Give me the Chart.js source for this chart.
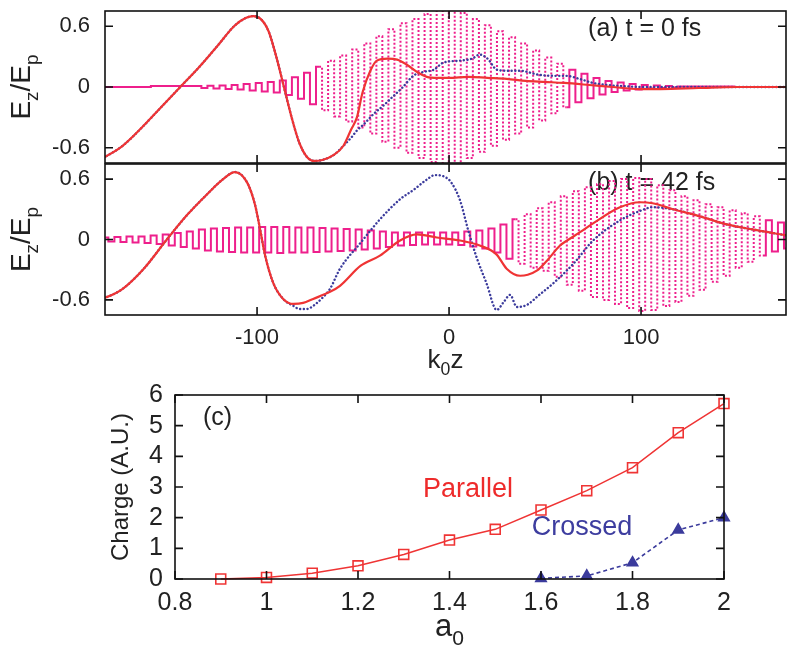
<!DOCTYPE html>
<html lang="en">
<head>
<meta charset="UTF-8">
<title>Wakefield Ez/Ep and injected charge</title>
<style>
  body { margin: 0; background: #fff; }
  #wrap { position: relative; width: 788px; height: 646px; }
  canvas { position: absolute; left: 0; }
</style>
</head>
<body>
<div id="wrap">
  <canvas id="panelA" width="788" height="166" style="top:0px"></canvas>
  <canvas id="panelB" width="788" height="225" style="top:150px"></canvas>
  <canvas id="panelC" width="788" height="271" style="top:375px"></canvas>
</div>
<script src="https://cdn.jsdelivr.net/npm/chart.js@4.4.1/dist/chart.umd.min.js"></script>
<script>
// ---- panels (a) and (b): k0z axis ----
const xTicksAB = [-100, 0, 100];
const yTicksAB = [-0.6, 0, 0.6];

// (a) t = 0 fs : wakefield, parallel (red) and crossed (blue)
const redAX = [-180, -170, -160, -150, -140, -130, -120, -112, -106, -102, -98, -94, -90, -86, -82, -78, -74, -70, -66, -60,
  -55, -51, -48, -45, -41, -37.6, -32, -27, -22, -16, -11.6, -6, 0, 10, 20, 30, 40, 50, 60, 73, 85, 99, 110, 130, 150, 176];
const redAY = [-0.7, -0.58, -0.4, -0.2, 0.0, 0.2, 0.42, 0.6, 0.68, 0.7, 0.67, 0.55, 0.3, 0.0, -0.3, -0.55, -0.69, -0.73, -0.72, -0.67,
  -0.58, -0.42, -0.3, -0.05, 0.16, 0.26, 0.28, 0.27, 0.22, 0.14, 0.1, 0.09, 0.09, 0.1, 0.09, 0.08, 0.06, 0.05, 0.04, 0.02, 0.0, -0.02, -0.02, -0.01, 0.0, 0.0];
const blueAX = [-180, -170, -160, -150, -140, -130, -120, -112, -106, -102, -98, -94, -90, -86, -82, -78, -74, -70, -66, -60,
  -55, -51, -48, -44, -39.5, -34, -29, -24, -18.7, -13, -8, -3, 5.7, 12, 16, 20, 25, 31, 37, 47, 55, 61, 68, 75, 82, 89, 100, 117, 150, 176];
const blueAY = [-0.7, -0.58, -0.4, -0.2, 0.0, 0.2, 0.42, 0.6, 0.68, 0.7, 0.67, 0.55, 0.3, 0.0, -0.3, -0.55, -0.69, -0.73, -0.72, -0.67,
  -0.58, -0.5, -0.43, -0.36, -0.27, -0.18, -0.09, 0.0, 0.11, 0.15, 0.17, 0.24, 0.26, 0.28, 0.32, 0.28, 0.17, 0.16, 0.16, 0.12, 0.11, 0.11, 0.08, 0.04, 0.02, 0.01, 0.0, 0.0, 0.0, 0.0];
// laser field, crest and trough positions
const laserAX = [-180,
  -130.6, -127.4, -124.3, -121.1, -118.0, -114.8, -111.7, -108.6, -105.4, -102.3,
  -99.1, -96.0, -92.9, -89.7, -86.6, -83.4, -80.3, -77.1, -74.0, -70.9,
  -67.7, -64.6, -61.4, -58.3, -55.2, -52.0, -48.9, -45.7, -42.6, -39.4,
  -36.3, -33.2, -30.0, -26.9, -23.7, -20.6, -17.5, -14.3, -11.2, -8.0,
  -4.9, -1.7, 1.4, 4.5, 7.7, 10.8, 14.0, 17.1, 20.2, 23.4,
  26.5, 29.7, 32.8, 36.0, 39.1, 42.2, 45.4, 48.5, 51.7, 54.8,
  57.9, 61.1, 64.2, 67.4, 70.5, 73.7, 76.8, 79.9, 83.1, 86.2,
  89.4, 92.5, 95.6, 98.8, 101.9, 105.1, 108.2, 111.4, 114.5, 117.6, 120.8,
  176];
const laserAY = [0,
  0.01, -0.01, 0.012, -0.015, 0.015, -0.02, 0.02, -0.025, 0.03, -0.035,
  0.04, -0.045, 0.05, -0.055, 0.065, -0.08, 0.095, -0.115, 0.14, -0.17,
  0.2, -0.23, 0.26, -0.29, 0.31, -0.34, 0.37, -0.4, 0.43, -0.46,
  0.5, -0.54, 0.57, -0.6, 0.63, -0.65, 0.67, -0.7, 0.72, -0.74,
  0.76, -0.77, 0.78, -0.76, 0.73, -0.7, 0.67, -0.64, 0.61, -0.58,
  0.55, -0.52, 0.49, -0.46, 0.43, -0.4, 0.36, -0.33, 0.29, -0.26,
  0.23, -0.2, 0.17, -0.15, 0.13, -0.11, 0.09, -0.075, 0.06, -0.05,
  0.045, -0.035, 0.03, -0.025, 0.02, -0.015, 0.015, -0.01, 0.01, -0.005, 0.005,
  0];

// (b) t = 42 fs
const redBX = [-180, -178, -170, -159, -147, -136.6, -126, -117.7, -111.5, -105, -101, -98.4, -95.8, -91.6, -86.4, -81, -76, -70.8, -62, -56.8,
  -46, -36, -25.5, -16.8, -6.4, 5.7, 16, 24.8, 30, 37, 41, 45.7, 51, 57.8, 61.5, 68, 75, 89, 99.5, 106, 116.7, 130.7, 144.6, 158, 176];
const redBY = [-0.58, -0.57, -0.49, -0.29, 0.0, 0.24, 0.45, 0.6, 0.67, 0.56, 0.34, 0.1, -0.16, -0.43, -0.59, -0.64, -0.63, -0.59, -0.52, -0.46,
  -0.26, -0.16, -0.01, 0.05, 0.02, -0.01, -0.06, -0.15, -0.29, -0.36, -0.35, -0.31, -0.21, -0.06, -0.01, 0.07, 0.16, 0.32, 0.37, 0.36, 0.3, 0.23, 0.15, 0.1, 0.04];
const blueBX = [-180, -178, -170, -159, -147, -136.6, -126, -117.7, -111.5, -105, -101, -98.4, -95.8, -91.6, -86.4, -81, -78, -74, -70.8, -66,
  -62, -56.8, -46.4, -36, -25.5, -18, -12, -7.3, -2, 1, 5.7, 10, 14.4, 19.6, 24.8, 28.5, 31.8, 35.3, 40.5, 47,
  54, 64.8, 75, 89, 99, 106, 116.7, 130.7, 144.6, 158, 176];
const blueBY = [-0.58, -0.57, -0.49, -0.29, 0.0, 0.24, 0.45, 0.6, 0.67, 0.56, 0.34, 0.1, -0.16, -0.43, -0.59, -0.66, -0.69, -0.69, -0.66, -0.58,
  -0.49, -0.29, -0.04, 0.2, 0.4, 0.5, 0.59, 0.64, 0.62, 0.57, 0.39, 0.09, -0.18, -0.44, -0.7, -0.62, -0.55, -0.67, -0.65, -0.55,
  -0.44, -0.24, -0.01, 0.19, 0.28, 0.32, 0.3, 0.23, 0.15, 0.1, 0.04];
const laserBX = [
  -179.0, -175.9, -172.7, -169.6, -166.4, -163.3, -160.2, -157.0, -153.9, -150.7,
  -147.6, -144.4, -141.3, -138.2, -135.0, -131.9, -128.7, -125.6, -122.5, -119.3,
  -116.2, -113.0, -109.9, -106.7, -103.6, -100.5, -97.3, -94.2, -91.0, -87.9,
  -84.8, -81.6, -78.5, -75.3, -72.2, -69.0, -65.9, -62.8, -59.6, -56.5,
  -53.3, -50.2, -47.1, -43.9, -40.8, -37.6, -34.5, -31.3, -28.2, -25.1,
  -21.9, -18.8, -15.6, -12.5, -9.4, -6.2, -3.1, 0.1, 3.2, 6.4,
  9.5, 12.6, 15.8, 18.9, 22.1, 25.2, 28.3, 31.5, 34.6, 37.8,
  40.9, 44.1, 47.2, 50.3, 53.5, 56.6, 59.8, 62.9, 66.0, 69.2,
  72.3, 75.5, 78.6, 81.8, 84.9, 88.0, 91.2, 94.3, 97.5, 100.6,
  103.7, 106.9, 110.0, 113.2, 116.3, 119.5, 122.6, 125.7, 128.9, 132.0,
  135.2, 138.3, 141.4, 144.6, 147.7, 150.9, 154.0, 157.1, 160.3, 163.4,
  166.6, 169.7, 172.9, 176.0];
const laserBY = [
  0.02, -0.02, 0.025, -0.025, 0.03, -0.03, 0.03, -0.035, 0.04, -0.045,
  0.05, -0.06, 0.065, -0.075, 0.08, -0.09, 0.1, -0.11, 0.11, -0.12,
  0.115, -0.125, 0.12, -0.13, 0.12, -0.13, 0.125, -0.13, 0.125, -0.135,
  0.125, -0.13, 0.12, -0.13, 0.12, -0.125, 0.115, -0.12, 0.11, -0.115,
  0.105, -0.11, 0.1, -0.1, 0.09, -0.09, 0.08, -0.075, 0.07, -0.06,
  0.07, -0.055, 0.07, -0.05, 0.07, -0.05, 0.07, -0.05, 0.07, -0.055,
  0.08, -0.07, 0.09, -0.09, 0.11, -0.13, 0.15, -0.19, 0.2, -0.24,
  0.25, -0.28, 0.31, -0.31, 0.37, -0.37, 0.43, -0.45, 0.48, -0.51,
  0.52, -0.57, 0.55, -0.6, 0.58, -0.64, 0.6, -0.68, 0.61, -0.71,
  0.6, -0.7, 0.54, -0.66, 0.49, -0.62, 0.43, -0.56, 0.39, -0.5,
  0.35, -0.42, 0.32, -0.36, 0.29, -0.28, 0.26, -0.22, 0.23, -0.16,
  0.19, -0.12, 0.17, -0.09];

// ---- panel (c): charge vs a0 ----
const xTicksC = [0.8, 1, 1.2, 1.4, 1.6, 1.8, 2];
const yTicksC = [0, 1, 2, 3, 4, 5, 6];
const a0Parallel = [0.9, 1.0, 1.1, 1.2, 1.3, 1.4, 1.5, 1.6, 1.7, 1.8, 1.9, 2.0];
const chargeParallel = [0, 0.05, 0.19, 0.43, 0.8, 1.27, 1.62, 2.25, 2.88, 3.63, 4.77, 5.72];
const a0Crossed = [1.6, 1.7, 1.8, 1.9, 2.0];
const chargeCrossed = [0.02, 0.1, 0.53, 1.6, 2.0];

const RED = '#ef3434';
const BLUE = '#3b3b9c';
const PINK = '#ee1f8c';
const INK = '#222';
const FAM = "'Liberation Sans', Arial, Helvetica, sans-serif";

Chart.defaults.font.family = FAM;
Chart.defaults.color = INK;

const pts = (xs, ys) => xs.map((x, i) => ({ x: x, y: ys[i] }));

// text with subscripts: parts = [[text, isSub], ...]
function rich(ctx, parts, x, y, size, align) {
  let w = 0;
  parts.forEach(([t, sub]) => {
    ctx.font = (sub ? size * 0.68 : size) + 'px ' + FAM;
    w += ctx.measureText(t).width;
  });
  let cx = align === 'center' ? x - w / 2 : x;
  parts.forEach(([t, sub]) => {
    ctx.font = (sub ? size * 0.68 : size) + 'px ' + FAM;
    ctx.fillText(t, cx, y + (sub ? size * 0.28 : 0));
    cx += ctx.measureText(t).width;
  });
}

// gnuplot style box with inward ticks on all four sides
const frame = {
  id: 'frame',
  afterDatasetsDraw(chart, args, o) {
    const { ctx, chartArea: a, scales: { x, y } } = chart;
    ctx.save();
    ctx.strokeStyle = '#111';
    ctx.lineWidth = 1.6;
    ctx.strokeRect(a.left, a.top, a.right - a.left, a.bottom - a.top);
    ctx.beginPath();
    o.xt.forEach(v => {
      const p = x.getPixelForValue(v);
      ctx.moveTo(p, a.bottom); ctx.lineTo(p, a.bottom - 8);
      ctx.moveTo(p, a.top); ctx.lineTo(p, a.top + 8);
    });
    o.yt.forEach(v => {
      const p = y.getPixelForValue(v);
      ctx.moveTo(a.left, p); ctx.lineTo(a.left + 8, p);
      ctx.moveTo(a.right, p); ctx.lineTo(a.right - 8, p);
    });
    ctx.stroke();
    ctx.restore();
  }
};

const labels = {
  id: 'labels',
  beforeDatasetsDraw(chart, args, o) {
    const { ctx, chartArea: a, scales: { x, y } } = chart;
    ctx.save();
    ctx.textAlign = 'left';
    ctx.textBaseline = 'alphabetic';
    o.items.forEach(it => {
      ctx.fillStyle = it.color || INK;
      if (it.rot) {
        ctx.save();
        ctx.translate(it.px, (a.top + a.bottom) / 2);
        ctx.rotate(-Math.PI / 2);
        rich(ctx, it.parts, 0, 0, it.size, 'center');
        ctx.restore();
      } else if (it.py !== undefined) {
        rich(ctx, it.parts, (a.left + a.right) / 2, it.py, it.size, 'center');
      } else {
        rich(ctx, it.parts, x.getPixelForValue(it.x), y.getPixelForValue(it.y), it.size, 'left');
      }
    });
    ctx.restore();
  }
};

const EzEp = [['E', 0], ['z', 1], ['/', 0], ['E', 0], ['p', 1]];
const X_MIN = -179.2, X_MAX = 175.5;

function pinkDash(c) {
  const y0 = c.p0.parsed ? c.p0.parsed.y : 0;
  const y1 = c.p1.parsed ? c.p1.parsed.y : 0;
  return Math.max(Math.abs(y0), Math.abs(y1)) > 0.2 ? [2, 2] : undefined;
}

function waveDatasets(rx, ry, bx, by, lx, ly) {
  return [
    { data: pts(rx, ry), borderColor: RED, borderWidth: 2.2, pointRadius: 0, cubicInterpolationMode: 'monotone' },
    { data: pts(bx, by), borderColor: BLUE, borderWidth: 2.4, borderDash: [0.1, 3.6], borderCapStyle: 'round',
      pointRadius: 0, cubicInterpolationMode: 'monotone' },
    { data: pts(lx, ly), borderColor: PINK, borderWidth: 2, pointRadius: 0, stepped: 'middle',
      segment: { borderDash: pinkDash } }
  ];
}

// fixed axis sizes, and no extra room for half-labels at the ends
function fixV(w) {
  return s => { s.width = w; s.paddingTop = 0; s.paddingBottom = 0; };
}
function fixH(h) {
  return s => { s.height = h; s.paddingLeft = 0; s.paddingRight = 0; };
}

function yAxisAB() {
  return {
    min: -0.75, max: 0.75,
    grid: { display: false, drawTicks: false }, border: { display: false },
    afterBuildTicks: s => { s.ticks = yTicksAB.map(v => ({ value: v })); },
    afterFit: fixV(105),
    ticks: { padding: 15, font: { size: 22 }, autoSkip: false, callback: v => String(v) }
  };
}

const common = {
  responsive: false, animation: false, devicePixelRatio: 1, events: []
};

new Chart(document.getElementById('panelA'), {
  type: 'line',
  data: { datasets: waveDatasets(redAX, redAY, blueAX, blueAY, laserAX, laserAY) },
  options: Object.assign({}, common, {
    layout: { padding: { top: 11, right: 2, bottom: 3, left: 0 } },
    scales: {
      x: { type: 'linear', min: X_MIN, max: X_MAX, display: false },
      y: yAxisAB()
    },
    plugins: {
      legend: { display: false }, tooltip: { enabled: false },
      frame: { xt: xTicksAB, yt: yTicksAB },
      labels: { items: [
        { parts: [['(a) t = 0 fs', 0]], x: 72.4, y: 0.5, size: 25 },
        { parts: EzEp, rot: true, px: 30, size: 28 }
      ] }
    }
  }),
  plugins: [frame, labels]
});

new Chart(document.getElementById('panelB'), {
  type: 'line',
  data: { datasets: waveDatasets(redBX, redBY, blueBX, blueBY, laserBX, laserBY) },
  options: Object.assign({}, common, {
    layout: { padding: { top: 14, right: 2, bottom: 0, left: 0 } },
    scales: {
      x: {
        type: 'linear', min: X_MIN, max: X_MAX,
        grid: { display: false, drawTicks: false }, border: { display: false },
        afterBuildTicks: s => { s.ticks = xTicksAB.map(v => ({ value: v })); },
        afterFit: fixH(60),
        ticks: { padding: 10, font: { size: 22 }, maxRotation: 0, autoSkip: false, callback: v => String(v) }
      },
      y: yAxisAB()
    },
    plugins: {
      legend: { display: false }, tooltip: { enabled: false },
      frame: { xt: xTicksAB, yt: yTicksAB },
      labels: { items: [
        { parts: [['(b) t = 42 fs', 0]], x: 72.4, y: 0.495, size: 25 },
        { parts: EzEp, rot: true, px: 30, size: 28 },
        { parts: [['k', 0], ['0', 1], ['z', 0]], py: 218, size: 26 }
      ] }
    }
  }),
  plugins: [frame, labels]
});

new Chart(document.getElementById('panelC'), {
  type: 'line',
  data: {
    datasets: [
      { label: 'Parallel', data: pts(a0Parallel, chargeParallel), borderColor: RED, borderWidth: 1.5,
        pointStyle: 'rect', pointRadius: 7, pointBorderWidth: 1.6, pointBorderColor: RED,
        pointBackgroundColor: 'rgba(255,255,255,0)', clip: false },
      { label: 'Crossed', data: pts(a0Crossed, chargeCrossed), borderColor: BLUE, borderWidth: 1.6, borderDash: [4, 3],
        pointStyle: 'triangle', pointRadius: 6, pointBorderColor: BLUE, pointBackgroundColor: BLUE, clip: false }
    ]
  },
  options: Object.assign({}, common, {
    layout: { padding: { top: 20, right: 64, bottom: 0, left: 0 } },
    scales: {
      x: {
        type: 'linear', min: 0.8, max: 2,
        grid: { display: false, drawTicks: false }, border: { display: false },
        afterBuildTicks: s => { s.ticks = xTicksC.map(v => ({ value: v })); },
        afterFit: fixH(67),
        ticks: { padding: 9, font: { size: 25 }, maxRotation: 0, autoSkip: false, callback: v => String(v) }
      },
      y: {
        min: 0, max: 6,
        grid: { display: false, drawTicks: false }, border: { display: false },
        afterBuildTicks: s => { s.ticks = yTicksC.map(v => ({ value: v })); },
        afterFit: fixV(175),
        ticks: { padding: 12, font: { size: 25 }, autoSkip: false, callback: v => String(v) }
      }
    },
    plugins: {
      legend: { display: false }, tooltip: { enabled: false },
      frame: { xt: xTicksC, yt: yTicksC },
      labels: { items: [
        { parts: [['(c)', 0]], x: 0.861, y: 5.02, size: 25 },
        { parts: [['Parallel', 0]], x: 1.342, y: 2.67, size: 27, color: '#ee2b2b' },
        { parts: [['Crossed', 0]], x: 1.58, y: 1.43, size: 27, color: '#3d3d9f' },
        { parts: [['Charge (A.U.)', 0]], rot: true, px: 128, size: 24 },
        { parts: [['a', 0], ['0', 1]], py: 261, size: 31 }
      ] }
    }
  }),
  plugins: [frame, labels]
});
</script>
</body>
</html>
